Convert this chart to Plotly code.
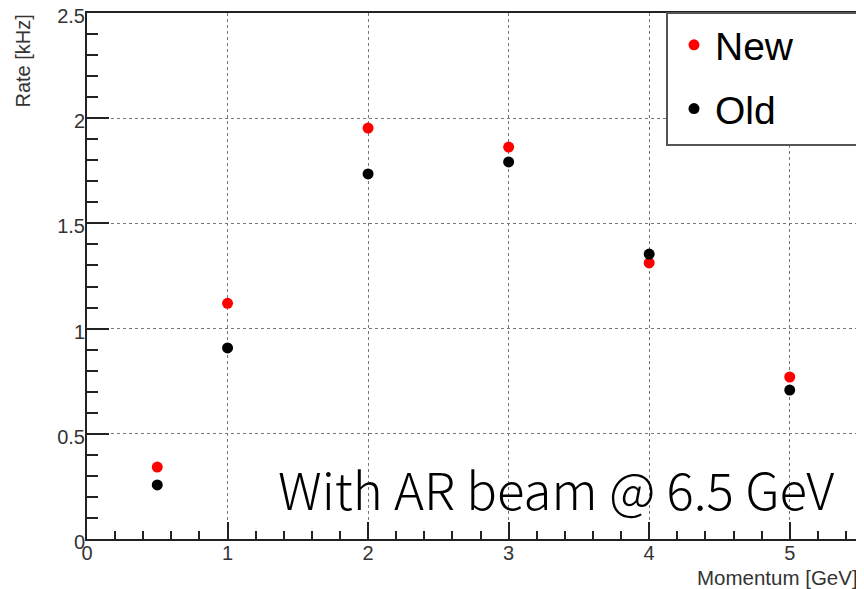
import plotly.graph_objects as go

momentum = [0.5, 1, 2, 3, 4, 5]
rate_new = [0.342, 1.12, 1.953, 1.863, 1.312, 0.77]
rate_old = [0.257, 0.908, 1.735, 1.792, 1.354, 0.708]
x_ticks = [0, 1, 2, 3, 4, 5]
y_ticks = [0, 0.5, 1, 1.5, 2, 2.5]
y_ticktext = ["0", "0.5", "1", "1.5", "2", "2.5"]

font_main = "Liberation Sans, Arial, sans-serif"

fig = go.Figure()
fig.add_trace(go.Scatter(x=momentum, y=rate_new, mode="markers", name="New",
                         legendgroup="new",
                         marker=dict(color="#ff0000", size=11)))
fig.add_trace(go.Scatter(x=momentum, y=rate_old, mode="markers", name="Old",
                         legendgroup="old",
                         marker=dict(color="#000000", size=11)))

axis_common = dict(
    showline=True, linecolor="#222", linewidth=2, mirror=True,
    showgrid=True, gridcolor="#777", griddash="dot", gridwidth=1,
    zeroline=False, ticks="inside", tickcolor="#222", tickwidth=1.5,
    tickfont=dict(family=font_main, size=20, color="#333"),
    automargin=False, ticklabeloverflow="allow",
)

fig.update_xaxes(range=[0, 5.5], tickvals=x_ticks, ticklen=17, ticklabelstandoff=-5,
                 minor=dict(ticks="inside", dtick=0.2, ticklen=8, tickcolor="#222", showgrid=False),
                 **axis_common)
fig.update_yaxes(range=[0, 2.5], tickvals=y_ticks, ticktext=y_ticktext, ticklen=22,
                 ticklabelstandoff=-4, ticklabelshift=3,
                 minor=dict(ticks="inside", dtick=0.1, ticklen=11, tickcolor="#222", showgrid=False),
                 **axis_common)

# page has an 8px body margin; figure is sized so the plot area lands at 87..860 x 13..539
fig.update_layout(
    width=856, height=581,
    margin=dict(l=79, r=4, t=5, b=50),
    paper_bgcolor="white", plot_bgcolor="white",
    showlegend=True,
    legend=dict(x=(673 - 87) / 773, y=1, xanchor="left", yanchor="top",
                borderwidth=0, bgcolor="rgba(0,0,0,0)",
                font=dict(family=font_main, size=39, color="#000"),
                itemwidth=32, tracegroupgap=10),
    shapes=[
        dict(type="rect", xref="paper", yref="paper",
             x0=(667 - 87) / 773, x1=1.0, y0=(539 - 145) / 526, y1=1.0,
             line=dict(color="#555", width=2), fillcolor="white", layer="above"),
    ],
    annotations=[
        dict(text="With AR beam @ 6.5 GeV", xref="paper", yref="paper",
             x=(836 - 87) / 773, y=(539 - 527) / 526, xanchor="right", yanchor="bottom",
             showarrow=False,
             font=dict(family="Noto Sans CJK JP, Noto Sans, sans-serif", size=51, color="#000", weight=300)),
        dict(text="Rate [kHz]", xref="paper", yref="paper", x=-0.084, y=1.0,
             xanchor="center", yanchor="top", textangle=-90, showarrow=False,
             font=dict(family=font_main, size=20, color="#333")),
        dict(text="Momentum [GeV]", xref="paper", yref="paper", x=1.0, y=-0.048,
             xanchor="right", yanchor="top", showarrow=False,
             font=dict(family=font_main, size=20.5, color="#333")),
    ],
)

fig.write_html("out.html")
